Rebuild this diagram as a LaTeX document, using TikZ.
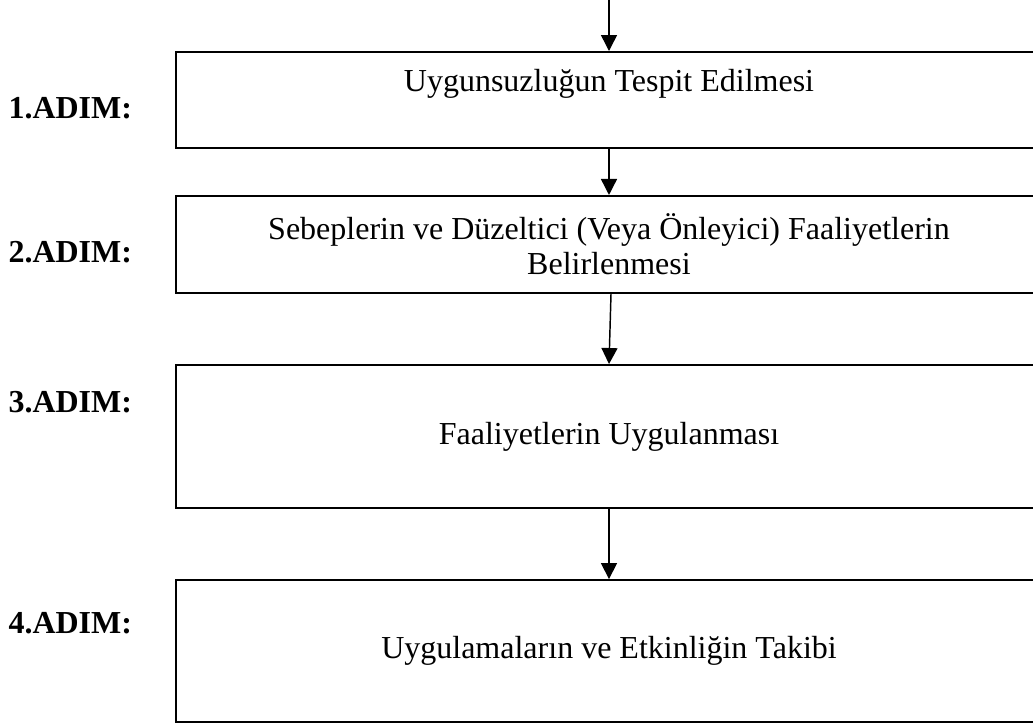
\documentclass[tikz,border=0pt]{standalone}
\usepackage{fontspec}
\setmainfont{Liberation Serif}
\usepackage{tikz}
\usetikzlibrary{arrows.meta}

\begin{document}
\begin{tikzpicture}[x=0.375pt,y=-0.375pt]
\tikzstyle{every node}+=[font=\fontsize{12}{13}\selectfont]
\tikzstyle{stepbox}=[draw=black, line width=0.75pt, minimum width=324.75pt, inner sep=0pt, align=center]
\tikzstyle{steplabel}=[anchor=west, inner sep=0pt, font=\fontsize{12}{13}\selectfont\bfseries]
\tikzstyle{flow}=[draw=black, line width=0.55pt, -{Triangle[length=6pt,width=6pt]}]
\useasboundingbox (0,0) rectangle (1033,724);
\coordinate (top) at (609,0);
\node [stepbox, minimum height=36pt, text depth=14.6pt] (s1) at (609,100) {Uygunsuzluğun Tespit Edilmesi};
\node [stepbox, minimum height=36.4pt] (s2) at (609,244.5) {Sebeplerin ve Düzeltici (Veya Önleyici) Faaliyetlerin\\Belirlenmesi};
\node [stepbox, minimum height=53.6pt] (s3) at (609,436.5) {Faaliyetlerin Uygulanması};
\node [stepbox, minimum height=53.2pt] (s4) at (609,651) {Uygulamaların ve Etkinliğin Takibi};
\node [steplabel] (l1) at (8,108) {1.ADIM:};
\node [steplabel] (l2) at (8,252) {2.ADIM:};
\node [steplabel] (l3) at (8,402) {3.ADIM:};
\node [steplabel] (l4) at (8,623) {4.ADIM:};
\draw [flow] (top) -- (s1.north);
\draw [flow] (s1.south) -- (s2.north);
\draw [flow] ([xshift=0.75pt]s2.south) -- (s3.north);
\draw [flow] (s3.south) -- (s4.north);
\end{tikzpicture}
\end{document}
